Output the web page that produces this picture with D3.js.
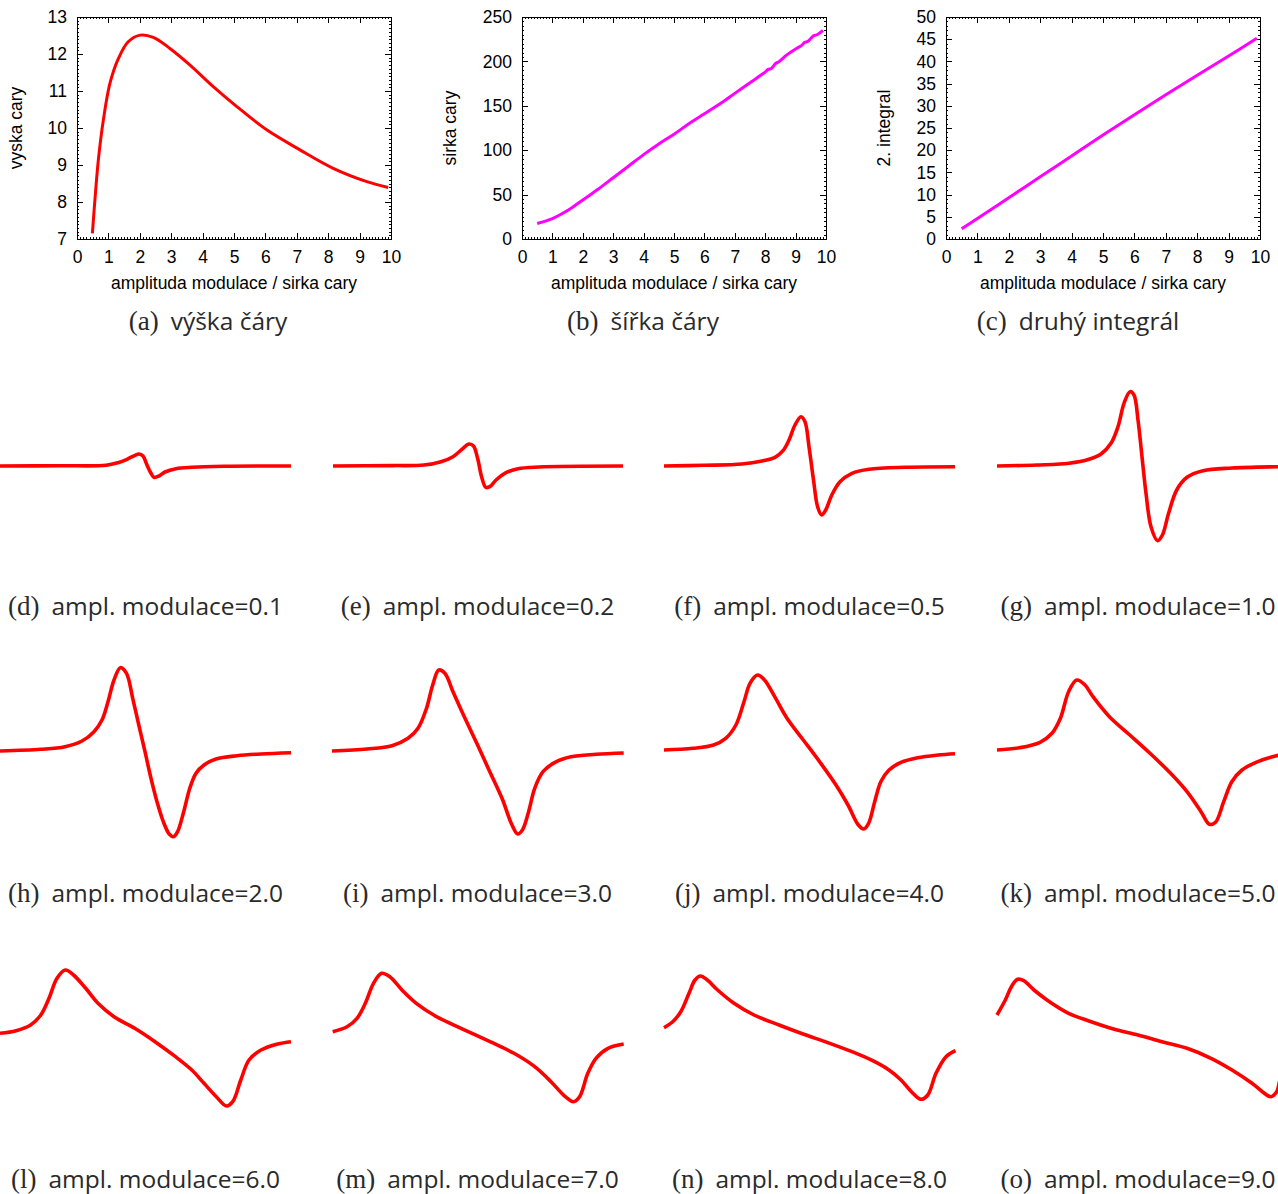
<!DOCTYPE html>
<html>
<head>
<meta charset="utf-8">
<script src="https://cdn.jsdelivr.net/npm/d3@7"></script>
<style>
  body { margin: 0; background: #fff; }
  svg { display: block; }
</style>
</head>
<body>
<div id="chart"></div>
<script>
// --------------------------------------------------------------------------------
// data

// (a) vyska cary
const amplA   = [0.49, 0.57, 0.68, 0.84, 1.05, 1.32, 1.63, 2.01, 2.43, 2.96, 3.6, 4.34, 5.09, 6.04, 7.1, 8.16, 9.23, 9.91];
const vyska   = [7.15, 8.05, 9.14, 10.22, 11.21, 11.88, 12.33, 12.51, 12.45, 12.15, 11.7, 11.12, 10.58, 9.95, 9.41, 8.91, 8.55, 8.39];

// (b) sirka cary
const amplB   = [0.5, 1, 1.5, 2, 2.5, 3, 3.5, 4, 4.5, 5, 5.5, 6, 6.5, 7, 7.5, 8, 8.1, 8.2, 8.35, 8.45, 8.6, 8.7, 9, 9.2, 9.3, 9.4, 9.6, 9.7, 9.9];
const sirka   = [17.5, 23, 32, 44, 56, 69, 82, 95, 107, 118, 130, 141, 152, 164, 176, 188, 191, 192, 198, 199.5, 204, 207, 214, 218, 221.5, 222.5, 229, 230, 235];

// (c) druhy integral
const amplC    = [0.5, 1, 2, 3, 4, 5, 6, 7, 8, 9, 9.9];
const integral = [2.3, 4.6, 9.3, 14, 18.7, 23.4, 28, 32.5, 36.9, 41.2, 45.2];

// tick labels
const xTicks  = d3.range(0, 11);
const yTicksA = [7, 8, 9, 10, 11, 12, 13];
const yTicksB = [0, 50, 100, 150, 200, 250];
const yTicksC = [0, 5, 10, 15, 20, 25, 30, 35, 40, 45, 50];

// spectra: [pole (kanal), signal (arb. j.)]
const lineD = [[0,0],[60,0.3],[106,0.7],[118,3.3],[127,6.7],[135,10.7],[139,12],[143,10],[147,1],[151,-7.3],[154,-11.3],[159,-10],[165,-6],[176,-2.7],[192,-1.3],[224,-0.3],[291,0]];
const lineE = [[1,0],[60,0.4],[92,1],[109,4.3],[121,9.3],[131,17.7],[137,22],[141.5,20],[145.6,7.7],[149.6,-10.7],[153.7,-21.3],[157.8,-20.7],[164,-14],[174,-6.7],[186,-2.7],[207,-1],[291,0]];
const lineF = [[0,0],[40,0.7],[78,2],[98,5],[111,8.7],[119,15.3],[125,26],[131,41],[137,49.3],[141,44.3],[145,19.3],[149.5,-14],[153.6,-40.7],[157.6,-49],[161.7,-44],[167.8,-29],[176,-15.7],[188,-7.3],[205,-3.3],[241,-1.3],[291,-0.7]];
const lineG = [[0,0],[40,1],[72,2.7],[92,6.7],[104,12],[114,22.7],[121,39.3],[127,62.7],[133,74.3],[137,71],[141,46],[145,9.3],[149,-27.3],[154,-60.7],[160.6,-74.7],[165.4,-69],[171.6,-47.3],[179.7,-24],[190,-11.3],[206,-4.7],[235,-2],[283,-0.7],[291,-0.5]];
const lineH = [[0,0],[41,1.7],[65,4.3],[82,10],[94,19.3],[102,31],[108,49.3],[114,71],[120.4,83.3],[126.5,77.7],[132.7,52.7],[138.8,26],[145,-0.7],[151,-27.3],[157,-50.7],[163.3,-70.7],[169.4,-83.3],[173.5,-85.7],[177.6,-80.7],[183.7,-60.7],[189.8,-37.3],[196,-22.3],[204,-14],[216,-8],[237,-4.7],[261,-3],[291,-1.7]];
const lineI = [[0,0],[35,2],[60,5.3],[76,12.7],[86,22.7],[94.5,42.7],[100.7,66],[106.8,81],[112.9,77.7],[121,59.3],[133,32.7],[145.6,6],[157.8,-20.7],[170,-47.3],[180,-74],[185.6,-83],[190.4,-79],[196.6,-60.7],[202.7,-37.3],[211,-20.7],[223,-11.3],[239,-5.7],[264,-3.3],[291.7,-2]];
const lineJ = [[0,1],[29,2.7],[49.5,6],[61.7,12.7],[71.9,26],[80,49.3],[86,67.7],[93.6,76],[100.5,71],[110.7,54.3],[123,32.7],[139.3,11],[155.6,-10.7],[172,-34],[184,-54],[194.4,-74],[199.7,-78],[204.6,-72.3],[210.7,-50.7],[216.8,-30.7],[225,-19],[237,-11.3],[253.6,-6.7],[274,-4],[291,-2.7]];
const lineK = [[0,1],[22.6,3.3],[43,8.7],[55,17.7],[63.4,32.7],[71.6,59.3],[79.7,71],[88,66],[96,54.3],[112.4,34.3],[132.8,16],[153,-2.3],[173.6,-22.3],[190,-40.7],[204,-60.7],[212.4,-73.3],[218.5,-71.3],[226.7,-50.7],[234.8,-30.7],[245,-19],[259,-11.3],[283,-4],[291,-3.3]];
const lineL = [[0,2.7],[16,5.3],[30.6,11],[40.8,21],[49,37.7],[57,57.7],[65.3,66],[73.5,61],[85.7,47.7],[98,32.7],[114,19.3],[134.7,7.7],[155,-5.7],[175.5,-20.7],[191.8,-34],[204,-47.3],[216.3,-60.7],[226.5,-70],[232.7,-65.7],[240.8,-44],[249,-24],[261,-14],[277.6,-8],[291,-5.7]];
const lineM = [[0.7,4.3],[15,9.3],[25,17.7],[33.3,32.7],[41.5,52.7],[49.6,62.7],[57.8,59.3],[70,46],[84.3,32.7],[104.7,19.3],[129,7.7],[158,-5.7],[182,-17.3],[202.7,-30.7],[219,-45.7],[233.3,-60.7],[241.5,-65.7],[247.6,-60.7],[255.8,-37.3],[264,-22.3],[276,-12.3],[291.7,-8]];
const lineN = [[0,8.3],[8.7,14.3],[16.8,24.3],[25,42.7],[31,56],[36.4,60],[43.3,56],[53.6,46],[70,32.7],[90,21],[115,11],[139,2],[164,-6.7],[188,-15.7],[208.7,-24.7],[225,-34],[237,-44],[247.4,-55.7],[256.8,-63.3],[263.8,-59],[272,-37.3],[282,-20.7],[291.5,-14.7]];
const lineO = [[0,21],[8.3,36],[14.4,49.3],[20.6,56.7],[26.7,55.3],[37,46],[51,35.3],[71.6,22.7],[92,15],[116.5,7],[141,1],[165,-5.7],[190,-12.3],[214,-22.3],[235,-34],[255,-47.3],[265.4,-55.7],[273.6,-60.7],[279.7,-55.7],[283,-44],[291,-25]];

const spectra     = [lineD, lineE, lineF, lineG, lineH, lineI, lineJ, lineK, lineL, lineM, lineN, lineO];
const letters     = ["d", "e", "f", "g", "h", "i", "j", "k", "l", "m", "n", "o"];
const modulations = ["0.1", "0.2", "0.5", "1.0", "2.0", "3.0", "4.0", "5.0", "6.0", "7.0", "8.0", "9.0"];

// --------------------------------------------------------------------------------
const width = 1278, height = 1194;
const sansFont  = "'Open Sans', 'DejaVu Sans', sans-serif";
const serifFont = "'Liberation Serif', 'DejaVu Serif', serif";
const plotFont  = "'Liberation Sans', Arial, sans-serif";
const plotSize  = 17.5;

const svg = d3.select("#chart")
	.append("svg")
	.attr("width", width)
	.attr("height", height);

svg.append("rect").attr("width", width).attr("height", height).attr("fill", "#fff");

function caption(cx, y, letter, text) {
	const t = svg.append("text")
		.attr("x", cx)
		.attr("y", y)
		.attr("text-anchor", "middle")
		.attr("fill", "#2a2a2a");
	t.append("tspan")
		.attr("font-family", serifFont)
		.attr("font-size", 27)
		.text("(" + letter + ")");
	t.append("tspan")
		.attr("dx", 12)
		.attr("font-family", sansFont)
		.attr("font-size", 24.5)
		.text(text);
}

// ---------------------------------------------------------------------------------
// top row: three gnuplot style graphs
const plotTop = 17, plotBottom = 239;

function graph(opt) {
	const x = d3.scaleLinear().domain([0, 10]).range([opt.left, opt.right]);
	const y = d3.scaleLinear().domain(opt.yDomain).range([plotBottom, plotTop]);
	const g = svg.append("g");

	const xMinor = d3.range(0, 10.001, 0.1);
	const yMinor = d3.range(opt.yDomain[0], opt.yDomain[1] + 1e-6, opt.yMinor);

	// minor ticks on all sides
	g.append("g").attr("transform", `translate(0,${plotBottom})`)
		.call(d3.axisBottom(x).tickValues(xMinor).tickSizeInner(-2).tickSizeOuter(0).tickFormat(""));
	g.append("g").attr("transform", `translate(0,${plotTop})`)
		.call(d3.axisTop(x).tickValues(xMinor).tickSizeInner(-2).tickSizeOuter(0).tickFormat(""));
	g.append("g").attr("transform", `translate(${opt.left},0)`)
		.call(d3.axisLeft(y).tickValues(yMinor).tickSizeInner(-2).tickSizeOuter(0).tickFormat(""));
	g.append("g").attr("transform", `translate(${opt.right},0)`)
		.call(d3.axisRight(y).tickValues(yMinor).tickSizeInner(-2).tickSizeOuter(0).tickFormat(""));

	// major ticks + labels
	g.append("g").attr("transform", `translate(0,${plotBottom})`)
		.call(d3.axisBottom(x).tickValues(xTicks).tickSizeInner(-6).tickSizeOuter(0).tickPadding(11.6).tickFormat(d3.format("d")));
	g.append("g").attr("transform", `translate(0,${plotTop})`)
		.call(d3.axisTop(x).tickValues(xTicks).tickSizeInner(-6).tickSizeOuter(0).tickFormat(""));
	g.append("g").attr("transform", `translate(${opt.left},0)`)
		.call(d3.axisLeft(y).tickValues(opt.yTicks).tickSizeInner(-6).tickSizeOuter(0).tickPadding(10).tickFormat(d3.format("d")));
	g.append("g").attr("transform", `translate(${opt.right},0)`)
		.call(d3.axisRight(y).tickValues(opt.yTicks).tickSizeInner(-6).tickSizeOuter(0).tickFormat(""));

	g.selectAll(".domain").remove();
	g.selectAll(".tick line").attr("stroke", "#000").attr("shape-rendering", "crispEdges");
	g.selectAll(".tick text")
		.attr("font-family", plotFont)
		.attr("font-size", plotSize)
		.attr("fill", "#000");

	g.append("rect")
		.attr("x", opt.left).attr("y", plotTop)
		.attr("width", opt.right - opt.left).attr("height", plotBottom - plotTop)
		.attr("fill", "none").attr("stroke", "#000").attr("stroke-width", 1)
		.attr("shape-rendering", "crispEdges");

	// curve
	const line = d3.line()
		.x((d, i) => x(opt.xs[i]))
		.y((d) => y(d))
		.curve(d3.curveCatmullRom.alpha(0.5));
	g.append("path")
		.datum(opt.ys)
		.attr("d", line)
		.attr("fill", "none")
		.attr("stroke", opt.color)
		.attr("stroke-width", 3)
		.attr("stroke-linejoin", "round");

	// axis titles
	g.append("text")
		.attr("x", (opt.left + opt.right) / 2)
		.attr("y", 289)
		.attr("text-anchor", "middle")
		.attr("font-family", plotFont)
		.attr("font-size", plotSize)
		.text("amplituda modulace / sirka cary");
	g.append("text")
		.attr("transform", `translate(${opt.yTitleX},128) rotate(-90)`)
		.attr("text-anchor", "middle")
		.attr("dy", "0.35em")
		.attr("font-family", plotFont)
		.attr("font-size", plotSize)
		.text(opt.yTitle);

	caption(opt.capX, 330, opt.letter, opt.capText);
}

graph({ left: 77, right: 391, yDomain: [7, 13], yTicks: yTicksA, yMinor: 0.1,
	xs: amplA, ys: vyska, color: "#ff0000", yTitle: "vyska cary", yTitleX: 16,
	capX: 208, letter: "a", capText: "výška čáry" });
graph({ left: 522, right: 826, yDomain: [0, 250], yTicks: yTicksB, yMinor: 5,
	xs: amplB, ys: sirka, color: "#ff00ff", yTitle: "sirka cary", yTitleX: 450,
	capX: 643, letter: "b", capText: "šířka čáry" });
graph({ left: 946, right: 1260, yDomain: [0, 50], yTicks: yTicksC, yMinor: 1,
	xs: amplC, ys: integral, color: "#ff00ff", yTitle: "2. integral", yTitleX: 884,
	capX: 1078, letter: "c", capText: "druhý integrál" });

// ---------------------------------------------------------------------------------
// spectra for growing modulation amplitude, 4 columns x 3 rows
const colLeft  = [0, 332, 664, 997];
const capX     = [145.5, 477.5, 809.5, 1138];   // last column nudged so the text stays on the page
const rowBase  = [466, 751, 1036];
const rowCap   = [615, 902, 1188];
const panelW   = 291;

spectra.forEach((pts, i) => {
	const col = i % 4, row = Math.floor(i / 4);
	const x = d3.scaleLinear().domain([0, 291]).range([colLeft[col], colLeft[col] + panelW]);
	const y = d3.scaleLinear().domain([-100, 100]).range([rowBase[row] + 100, rowBase[row] - 100]);

	const line = d3.line()
		.x((d) => x(d[0]))
		.y((d) => y(d[1]))
		.curve(d3.curveCatmullRom.alpha(0.5));

	svg.append("path")
		.datum(pts)
		.attr("d", line)
		.attr("fill", "none")
		.attr("stroke", "#ff0000")
		.attr("stroke-width", 3.6)
		.attr("stroke-linejoin", "round");

	caption(capX[col], rowCap[row], letters[i], "ampl. modulace=" + modulations[i]);
});
</script>
</body>
</html>
